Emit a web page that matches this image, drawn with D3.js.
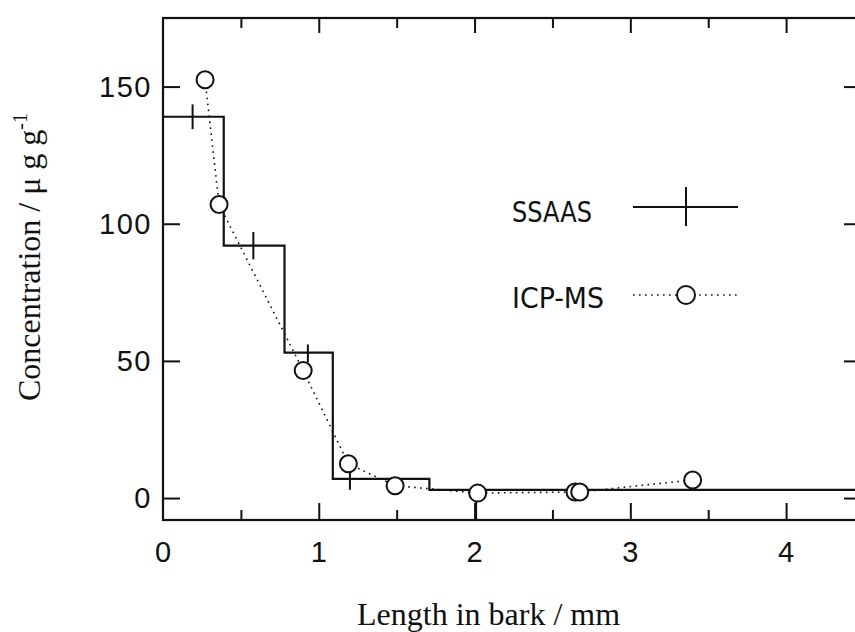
<!DOCTYPE html>
<html>
<head>
<meta charset="utf-8">
<script src="https://cdn.jsdelivr.net/npm/d3@7"></script>
<style>
  body { margin: 0; background: #fff; }
  svg { display: block; }
  .tick-label { font-family: "Liberation Sans", Arial, sans-serif; font-size: 29px; fill: #111; }
  .axis-title { font-family: "Liberation Serif", "Times New Roman", serif; font-size: 32px; fill: #111; }
  .legend-label { font-family: "Liberation Sans Narrow", "DejaVu Sans Condensed", sans-serif; font-size: 28px; fill: #111; }
</style>
</head>
<body>
<div id="chart"></div>
<script>
// SSAAS: step profile (segment edges in mm, concentration per segment)
const ssaasEdges = [0, 0.39, 0.78, 1.09, 1.71, 4.6];
const ssaasValues = [139, 92, 53, 7, 3];
// SSAAS markers with vertical error bars
const ssaasMarkX = [0.19, 0.58, 0.93, 1.2, 2.01];
const ssaasMarkY = [139, 92, 53, 7, 3];
const ssaasLow = [134.5, 87, 49.5, 3, -8];
const ssaasHigh = [143.5, 97, 56, 10.5, 2];

// ICP-MS points
const icpX = [0.27, 0.36, 0.9, 1.19, 1.49, 2.02, 2.645, 2.675, 3.4];
const icpY = [152.5, 107, 46.5, 12.5, 4.5, 1.8, 2.2, 2.2, 6.6];

// ticks
const xMajorTicks = [1, 2, 3, 4];
const xMinorTicks = [0.5, 1.5, 2.5, 3.5];
const xLabels = [0, 1, 2, 3, 4];
const yTicks = [0, 50, 100, 150];

const legendNames = ['SSAAS', 'ICP-MS'];

// dimension stuff
const width = 855;
const height = 632;
const plotLeft = 163;
const plotTop = 18;
const plotBottom = 520;

// scales
const scaleX = d3.scaleLinear().domain([0, 4.5]).range([plotLeft, 864]);
const scaleY = d3.scaleLinear().domain([-8, 175]).range([plotBottom, plotTop]);

const $svg = d3.select('#chart').append('svg')
    .attr('width', width)
    .attr('height', height);

// axes (ticks pointing inward)
function drawTicks($g, axis) {
    $g.call(axis);
    $g.select('.domain').remove();
    $g.selectAll('.tick line').attr('stroke', '#111').attr('stroke-width', 2);
    $g.selectAll('.tick text').remove();
}

drawTicks($svg.append('g').attr('transform', `translate(0, ${plotBottom})`),
    d3.axisBottom(scaleX).tickValues(xMajorTicks).tickSize(-17));
drawTicks($svg.append('g').attr('transform', `translate(0, ${plotBottom})`),
    d3.axisBottom(scaleX).tickValues(xMinorTicks).tickSize(-10));
drawTicks($svg.append('g').attr('transform', `translate(0, ${plotTop})`),
    d3.axisTop(scaleX).tickValues(xMajorTicks).tickSize(-15));
drawTicks($svg.append('g').attr('transform', `translate(0, ${plotTop})`),
    d3.axisTop(scaleX).tickValues(xMinorTicks).tickSize(-10));
drawTicks($svg.append('g').attr('transform', `translate(${plotLeft}, 0)`),
    d3.axisLeft(scaleY).tickValues(yTicks).tickSize(-17));
drawTicks($svg.append('g').attr('transform', `translate(${scaleX(4.5)}, 0)`),
    d3.axisRight(scaleY).tickValues(yTicks).tickSize(-20));

// frame
$svg.append('rect')
    .attr('x', plotLeft)
    .attr('y', plotTop)
    .attr('width', scaleX(4.5) - plotLeft)
    .attr('height', plotBottom - plotTop)
    .attr('fill', 'none')
    .attr('stroke', '#111')
    .attr('stroke-width', 2.2);

// tick labels
$svg.append('g').selectAll('text')
    .data(yTicks)
    .join('text')
    .attr('class', 'tick-label')
    .attr('x', 152)
    .attr('y', d => scaleY(d) + 10)
    .attr('text-anchor', 'end')
    .attr('letter-spacing', 1.5)
    .text(d => d);

$svg.append('g').selectAll('text')
    .data(xLabels)
    .join('text')
    .attr('class', 'tick-label')
    .attr('x', d => scaleX(d))
    .attr('y', 562)
    .attr('text-anchor', 'middle')
    .text(d => d);

// axis titles
$svg.append('text')
    .attr('class', 'axis-title')
    .attr('x', 357)
    .attr('y', 625)
    .text('Length in bark / mm');

const $yTitle = $svg.append('text')
    .attr('class', 'axis-title')
    .attr('text-anchor', 'middle')
    .attr('transform', 'translate(40, 257) rotate(-90)');
$yTitle.append('tspan').text('Concentration / \u03bc g g');
$yTitle.append('tspan').attr('dy', -13).attr('font-size', 20).text('-1');

// SSAAS step line
const stepPts = [];
ssaasValues.forEach((v, i) => {
    stepPts.push([ssaasEdges[i], v]);
    stepPts.push([ssaasEdges[i + 1], v]);
});
const line = d3.line().x(d => scaleX(d[0])).y(d => scaleY(d[1]));

$svg.append('path')
    .datum(stepPts)
    .attr('d', line)
    .attr('fill', 'none')
    .attr('stroke', '#111')
    .attr('stroke-width', 2.2);

// SSAAS error bars
$svg.append('g').selectAll('line')
    .data(ssaasMarkX)
    .join('line')
    .attr('x1', d => scaleX(d))
    .attr('x2', d => scaleX(d))
    .attr('y1', (d, i) => scaleY(ssaasHigh[i]))
    .attr('y2', (d, i) => scaleY(ssaasLow[i]))
    .attr('stroke', '#111')
    .attr('stroke-width', 2);

// ICP-MS dotted line and circles
const icpPts = icpX.map((d, i) => [d, icpY[i]]);
$svg.append('path')
    .datum(icpPts)
    .attr('d', line)
    .attr('fill', 'none')
    .attr('stroke', '#111')
    .attr('stroke-width', 1.6)
    .attr('stroke-dasharray', '1.6,4.4');

$svg.append('g').selectAll('circle')
    .data(icpPts)
    .join('circle')
    .attr('cx', d => scaleX(d[0]))
    .attr('cy', d => scaleY(d[1]))
    .attr('r', 8.5)
    .attr('fill', '#fff')
    .attr('stroke', '#111')
    .attr('stroke-width', 2);

// legend
const legendY = [212, 298];
const $legend = $svg.append('g');
$legend.selectAll('text')
    .data(legendNames)
    .join('text')
    .attr('class', 'legend-label')
    .attr('x', 512)
    .attr('y', (d, i) => legendY[i] + 10)
    .attr('textLength', (d, i) => (i === 0 ? 80 : 92))
    .attr('lengthAdjust', 'spacingAndGlyphs')
    .text(d => d);

$legend.append('line')
    .attr('x1', 633).attr('x2', 738)
    .attr('y1', 207).attr('y2', 207)
    .attr('stroke', '#111').attr('stroke-width', 2);
$legend.append('line')
    .attr('x1', 686).attr('x2', 686)
    .attr('y1', 187).attr('y2', 226)
    .attr('stroke', '#111').attr('stroke-width', 2);

$legend.append('line')
    .attr('x1', 633).attr('x2', 738)
    .attr('y1', 295).attr('y2', 295)
    .attr('stroke', '#111').attr('stroke-width', 1.6)
    .attr('stroke-dasharray', '1.6,4.4');
$legend.append('circle')
    .attr('cx', 686).attr('cy', 295).attr('r', 9)
    .attr('fill', '#fff')
    .attr('stroke', '#111').attr('stroke-width', 2);
</script>
</body>
</html>
